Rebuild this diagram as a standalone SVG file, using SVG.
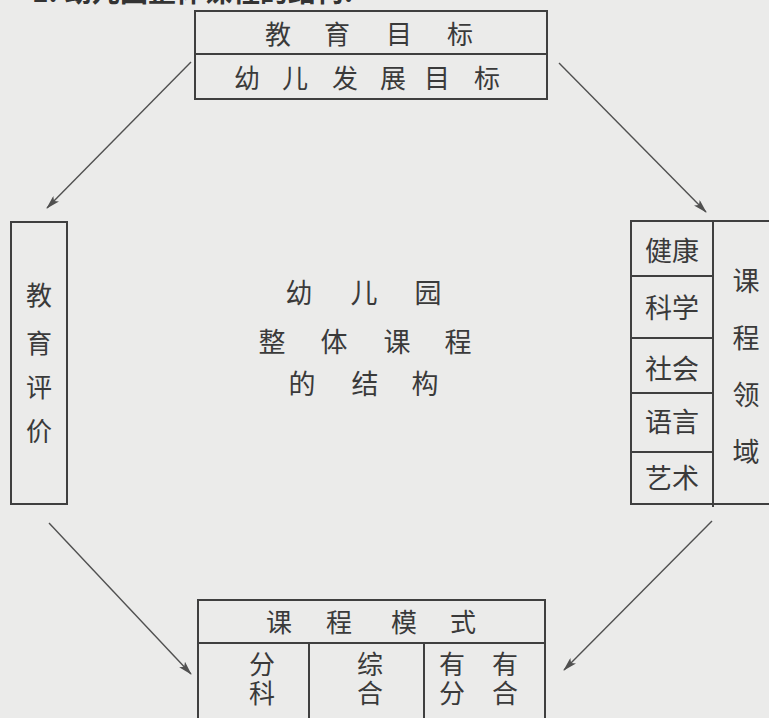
<svg xmlns="http://www.w3.org/2000/svg" width="769" height="718" viewBox="0 0 769 718">
<defs>
<style>
.bg{fill:#ebebea}
.box{fill:none;stroke:#3f3f3f;stroke-width:2}
.ln{fill:none;stroke:#3f3f3f;stroke-width:2}
.conn{fill:none;stroke:#505050;stroke-width:1.4}
.t{font-family:"Noto Sans CJK SC","Noto Sans CJK JP",sans-serif;fill:#3a3a3a;text-anchor:middle;font-size:26px}
.t27{font-size:27px}
.title{font-family:"Noto Sans CJK SC",sans-serif;font-weight:bold;fill:#333;font-size:28px}
</style>
<marker id="ah" viewBox="0 0 14 8" refX="13" refY="4" markerWidth="14" markerHeight="8" markerUnits="userSpaceOnUse" orient="auto">
<path d="M0,0 L14,4 L0,8 L3,4 Z" fill="#505050"/>
</marker>
</defs>
<rect class="bg" x="0" y="0" width="769" height="718"/>
<text class="title" x="32" y="2">1. <tspan x="64">幼儿园整体课程的结构:</tspan></text>

<g id="goal">
<rect class="box" x="195" y="11" width="352" height="88"/>
<line class="ln" x1="195" y1="54" x2="547" y2="54"/>
<text class="t" x="278 337 399 460" y="44">教育目标</text>
<text class="t" x="247 295 345 393 437 487" y="88">幼儿发展目标</text>
</g>

<g id="evaluation">
<rect class="box" x="11" y="222" width="56" height="282"/>
<text class="t" x="39" y="305">教</text>
<text class="t" x="39" y="353">育</text>
<text class="t" x="39" y="397">评</text>
<text class="t" x="39" y="441">价</text>
</g>

<g id="center">
<text class="t t27" x="299 364 428" y="303">幼儿园</text>
<text class="t t27" x="272 334 397 458" y="352">整体课程</text>
<text class="t t27" x="302 365 425" y="394">的结构</text>
</g>

<g id="domains">
<rect class="box" x="631" y="221" width="150" height="283"/>
<line class="ln" x1="713" y1="221" x2="713" y2="507"/>
<line class="ln" x1="631" y1="276" x2="713" y2="276"/>
<line class="ln" x1="631" y1="338" x2="713" y2="338"/>
<line class="ln" x1="631" y1="393" x2="713" y2="393"/>
<line class="ln" x1="631" y1="452" x2="713" y2="452"/>
<text class="t t27" x="672" y="261">健康</text>
<text class="t t27" x="672" y="318">科学</text>
<text class="t t27" x="672" y="379">社会</text>
<text class="t t27" x="672" y="432">语言</text>
<text class="t t27" x="672" y="488">艺术</text>
<text class="t t27" x="746" y="291">课</text>
<text class="t t27" x="746" y="348">程</text>
<text class="t t27" x="746" y="405">领</text>
<text class="t t27" x="746" y="462">域</text>
</g>

<g id="mode">
<rect class="box" x="198" y="600" width="347" height="130"/>
<line class="ln" x1="198" y1="643" x2="545" y2="643"/>
<line class="ln" x1="309" y1="643" x2="309" y2="730"/>
<line class="ln" x1="424" y1="643" x2="424" y2="730"/>
<text class="t" x="279 339 404 463" y="632">课程模式</text>
<text class="t" x="262" y="674">分<tspan x="262" dy="29">科</tspan></text>
<text class="t" x="370" y="674">综<tspan x="370" dy="29">合</tspan></text>
<text class="t" x="452" y="674">有<tspan x="452" dy="29">分</tspan></text>
<text class="t" x="505" y="674">有<tspan x="505" dy="29">合</tspan></text>
</g>

<g id="connectors">
<line class="conn" x1="191" y1="62" x2="47" y2="208" marker-end="url(#ah)"/>
<line class="conn" x1="559" y1="63" x2="706" y2="212" marker-end="url(#ah)"/>
<line class="conn" x1="49" y1="523" x2="191" y2="674" marker-end="url(#ah)"/>
<line class="conn" x1="712" y1="521" x2="564" y2="670" marker-end="url(#ah)"/>
</g>
</svg>
